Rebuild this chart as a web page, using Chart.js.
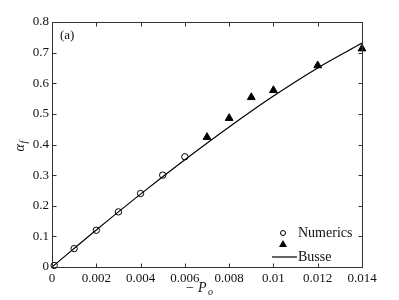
<!DOCTYPE html>
<html>
<head>
<meta charset="utf-8">
<script src="https://cdn.jsdelivr.net/npm/chart.js@4/dist/chart.umd.min.js"></script>
<style>
  html, body { margin: 0; padding: 0; background: #fff; }
  #wrap { width: 399px; height: 300px; }
</style>
</head>
<body>
<div id="wrap"><canvas id="c" width="399" height="300"></canvas></div>
<script>
// ==================== Data ====================
const numericsX = [0.0001, 0.001, 0.002, 0.003, 0.004, 0.005, 0.006];
const numericsY = [0.005, 0.06, 0.12, 0.18, 0.24, 0.30, 0.36];

const bigX = [0.007, 0.008, 0.009, 0.010, 0.012, 0.014];
const bigY = [0.424, 0.486, 0.554, 0.577, 0.658, 0.713];

const busseX = [0, 0.002, 0.004, 0.006, 0.008, 0.010, 0.012, 0.014];
const busseY = [0, 0.121, 0.238, 0.350, 0.457, 0.558, 0.650, 0.731];

const FONT = '"Liberation Serif", "DejaVu Serif", serif';

function pts(xs, ys) {
    return xs.map((x, i) => ({ x: x, y: ys[i] }));
}

// ==================== Frame, inner ticks and labels ====================
const framePlugin = {
    id: 'frame',
    afterDraw(chart) {
        const ctx = chart.ctx;
        const a = chart.chartArea;
        const xs = chart.scales.x;
        const ys = chart.scales.y;
        const L = Math.round(a.left) + 0.5, R = Math.round(a.right) + 0.5;
        const T = Math.round(a.top) + 0.5, B = Math.round(a.bottom) + 0.5;
        ctx.save();
        ctx.setLineDash([]);
        ctx.globalAlpha = 1;
        ctx.strokeStyle = '#333333';
        ctx.lineWidth = 1;
        ctx.beginPath();
        ctx.moveTo(L, T); ctx.lineTo(R, T); ctx.lineTo(R, B); ctx.lineTo(L, B); ctx.closePath();

        // inner ticks on all four sides
        xs.ticks.forEach(t => {
            const px = Math.round(xs.getPixelForValue(t.value)) + 0.5;
            ctx.moveTo(px, B); ctx.lineTo(px, B - 4);
            ctx.moveTo(px, T); ctx.lineTo(px, T + 4);
        });
        ys.ticks.forEach(t => {
            const py = Math.round(ys.getPixelForValue(t.value)) + 0.5;
            ctx.moveTo(L, py); ctx.lineTo(L + 4, py);
            ctx.moveTo(R, py); ctx.lineTo(R - 4, py);
        });
        ctx.stroke();

        ctx.fillStyle = '#111';
        // (a)
        ctx.font = '13px ' + FONT;
        ctx.textBaseline = 'middle';
        ctx.textAlign = 'left';
        ctx.fillText('(a)', a.left + 8, a.top + 14);

        // x title: -P_o
        const cx = (a.left + a.right) / 2;
        ctx.textAlign = 'left';
        ctx.font = '14px ' + FONT;
        ctx.fillText('\u2212', cx - 21, 288);
        ctx.font = 'italic 14px ' + FONT;
        ctx.fillText('P', cx - 9, 288);
        ctx.font = 'italic 10px ' + FONT;
        ctx.fillText('o', cx + 1, 292);

        // y title: alpha_f
        ctx.save();
        ctx.translate(20, (a.top + a.bottom) / 2);
        ctx.rotate(-Math.PI / 2);
        ctx.font = 'italic 14px ' + FONT;
        ctx.fillText('\u03b1', -7, 0);
        ctx.font = 'italic 10px ' + FONT;
        ctx.fillText('f', 1, 4);
        ctx.restore();

        // legend
        const lx = 283;
        ctx.strokeStyle = '#000';
        ctx.lineWidth = 1;
        ctx.beginPath();
        ctx.arc(lx, 233, 2.5, 0, Math.PI * 2);
        ctx.stroke();
        ctx.fillStyle = '#000';
        ctx.beginPath();
        ctx.moveTo(lx, 240); ctx.lineTo(lx + 4, 247); ctx.lineTo(lx - 4, 247);
        ctx.closePath();
        ctx.fill();
        ctx.lineWidth = 1.2;
        ctx.beginPath();
        ctx.moveTo(272, 257); ctx.lineTo(297, 257);
        ctx.stroke();
        ctx.fillStyle = '#111';
        ctx.font = '14px ' + FONT;
        ctx.textAlign = 'left';
        ctx.fillText('Numerics', 298, 233);
        ctx.fillText('Busse', 298, 257);
        ctx.restore();
    }
};

function tickLabel(v) {
    return String(Number(v.toFixed(4)));
}

// ==================== Chart ====================
new Chart(document.getElementById('c').getContext('2d'), {
    type: 'scatter',
    data: {
        datasets: [
            {
                label: 'Busse',
                data: pts(busseX, busseY),
                showLine: true,
                borderColor: '#000',
                borderWidth: 1.2,
                pointRadius: 0,
                cubicInterpolationMode: 'monotone',
                order: 3
            },
            {
                label: 'Numerics',
                data: pts(numericsX, numericsY),
                pointStyle: 'circle',
                pointRadius: 3.2,
                borderColor: '#000',
                borderWidth: 1,
                backgroundColor: 'rgba(0,0,0,0)',
                clip: false,
                order: 1
            },
            {
                label: 'Numerics (triangles)',
                data: pts(bigX, bigY),
                pointStyle: 'triangle',
                pointRadius: 4.5,
                borderColor: '#000',
                borderWidth: 1,
                backgroundColor: '#000',
                clip: false,
                order: 2
            }
        ]
    },
    options: {
        responsive: false,
        animation: false,
        layout: { padding: { top: 22, right: 37, left: 0, bottom: 0 } },
        plugins: { legend: { display: false }, tooltip: { enabled: false } },
        scales: {
            x: {
                type: 'linear',
                min: 0, max: 0.014,
                grid: { display: false, drawTicks: false },
                border: { display: false },
                afterFit(s) { s.height = 33; },
                ticks: {
                    stepSize: 0.002,
                    padding: 4,
                    color: '#111',
                    font: { family: FONT, size: 13 },
                    callback: tickLabel
                }
            },
            y: {
                type: 'linear',
                min: 0, max: 0.8,
                grid: { display: false, drawTicks: false },
                border: { display: false },
                afterFit(s) { s.width = 52; },
                ticks: {
                    stepSize: 0.1,
                    padding: 3,
                    color: '#111',
                    font: { family: FONT, size: 13 },
                    callback: tickLabel
                }
            }
        }
    },
    plugins: [framePlugin]
});
</script>
</body>
</html>
